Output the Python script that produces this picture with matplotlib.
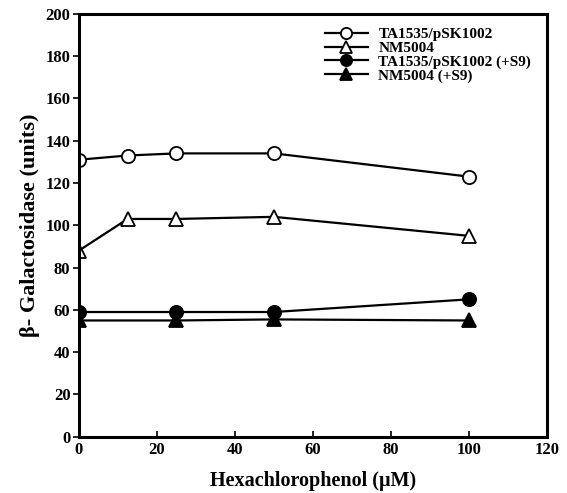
import matplotlib
matplotlib.use("Agg")
import matplotlib.pyplot as plt

plt.rcParams['font.family'] = ['Liberation Serif', 'DejaVu Serif']
plt.rcParams['font.weight'] = 'bold'

x_main = [0, 12.5, 25, 50, 100]
ta1535 = [131, 133, 134, 134, 123]
nm5004 = [88, 103, 103, 104, 95]
x_s9 = [0, 25, 50, 100]
ta1535_s9 = [59, 59, 59, 65]
nm5004_s9 = [55, 55, 55.5, 55]

labels = ['TA1535/pSK1002', 'NM5004', 'TA1535/pSK1002 (+S9)', 'NM5004 (+S9)']
xticks = [0, 20, 40, 60, 80, 100, 120]
yticks = [0, 20, 40, 60, 80, 100, 120, 140, 160, 180, 200]

fig = plt.figure(figsize=(5.67, 4.93), dpi=100)
ax = fig.add_axes([0.139, 0.114, 0.826, 0.858])

kw = dict(color='black', lw=1.6, markersize=9.5, markeredgewidth=1.3)
ax.plot(x_main, ta1535, marker='o', markerfacecolor='white', label=labels[0], **kw)
ax.plot(x_main, nm5004, marker='^', markerfacecolor='white', label=labels[1], **kw)
ax.plot(x_s9, ta1535_s9, marker='o', markerfacecolor='black', label=labels[2], **kw)
ax.plot(x_s9, nm5004_s9, marker='^', markerfacecolor='black', label=labels[3], **kw)

ax.set_xlim(0, 120)
ax.set_ylim(0, 200)
ax.set_xticks(xticks)
ax.set_yticks(yticks)
ax.tick_params(axis='x', direction='in', length=4, width=1.2, labelsize=12, pad=4)
ax.tick_params(axis='y', direction='out', length=4, width=1.2, labelsize=12, pad=2)
for lab in ax.get_xticklabels() + ax.get_yticklabels():
    lab.set_fontweight('bold')
for s in ax.spines.values():
    s.set_linewidth(2.2)

ax.set_xlabel('Hexachlorophenol (\u03bcM)', fontsize=14.5, fontweight='bold', labelpad=9)
ax.set_ylabel('\u03b2- Galactosidase (units)', fontsize=16, fontweight='bold', labelpad=4)

leg = ax.legend(loc='upper right', bbox_to_anchor=(0.995, 1.0), frameon=False,
                fontsize=11, handlelength=2.8, labelspacing=0.0, handletextpad=0.7,
                markerscale=0.85)
for t in leg.get_texts():
    t.set_fontweight('bold')

fig.savefig('out.png', dpi=100)
